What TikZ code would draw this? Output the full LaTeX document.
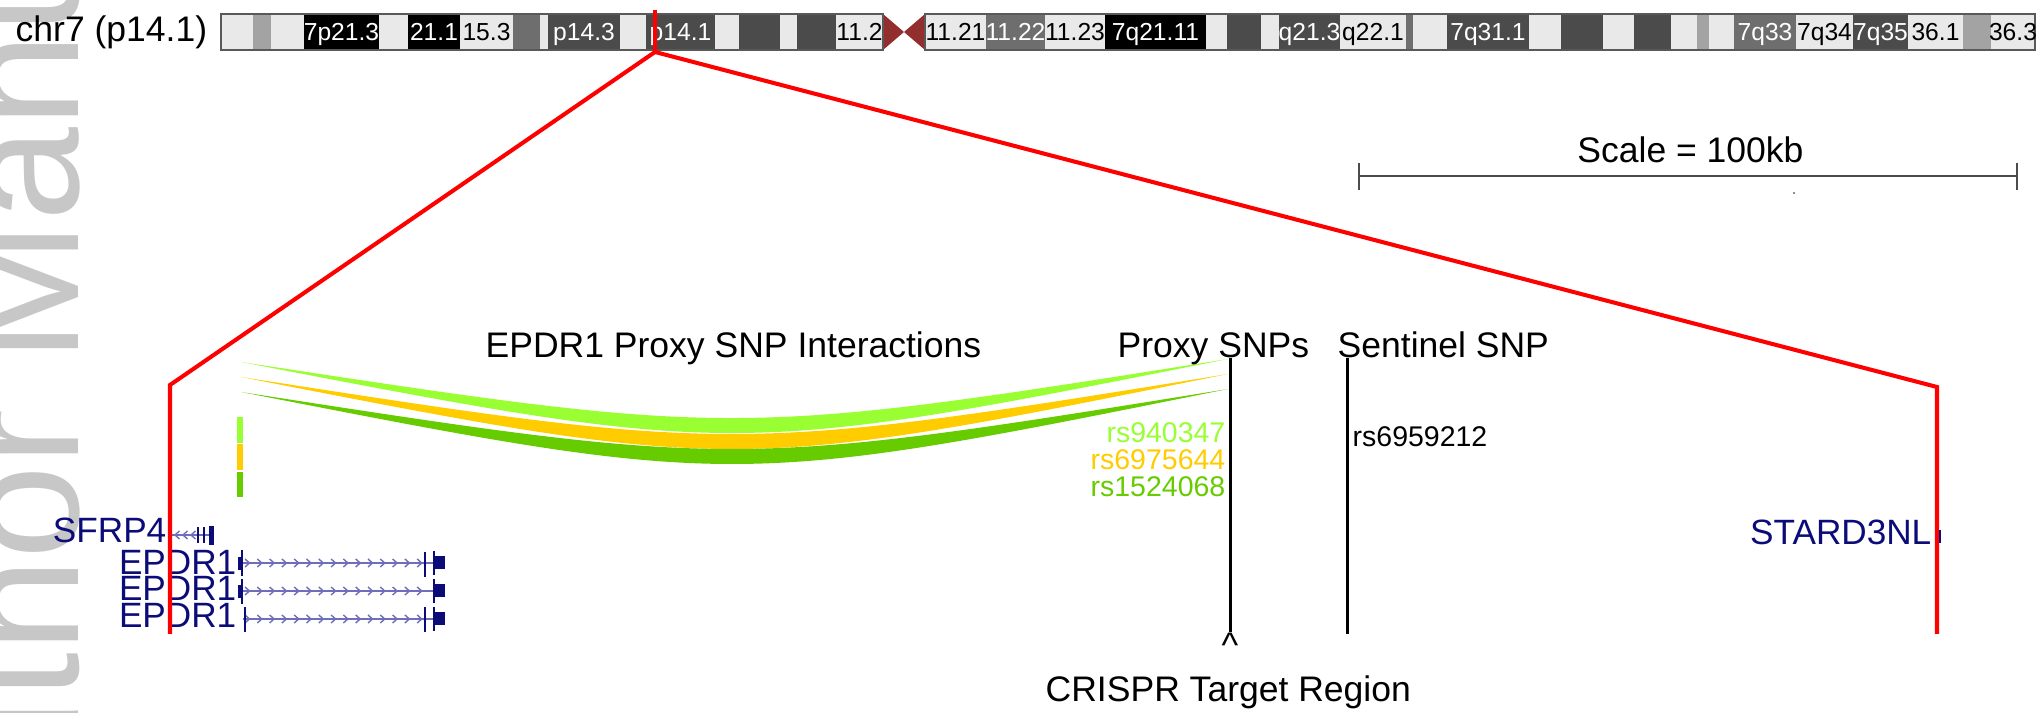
\documentclass[tikz,border=0pt]{standalone}
\usepackage{fontspec}
\setmainfont{Liberation Sans}
\usepackage{tikz}
\usetikzlibrary{positioning}
\definecolor{ucscnavy}{RGB}{12,12,120}
\definecolor{genelt}{RGB}{110,110,185}
\definecolor{bandlt}{HTML}{E9E9E9}
\definecolor{bandmd}{HTML}{A3A3A3}
\definecolor{bandmdk}{HTML}{6E6E6E}
\definecolor{banddk}{HTML}{4B4B4B}
\definecolor{cenred}{HTML}{932E2E}
\definecolor{snpA}{HTML}{99FF33}
\definecolor{snpB}{HTML}{FFCC00}
\definecolor{snpC}{HTML}{66CC00}

\begin{document}
\begin{tikzpicture}[x=0.01cm, y=-0.01cm,
  band/.style={inner sep=0, font=\fontsize{7}{8}\selectfont, anchor=base},
  title/.style={inner sep=0, font=\fontsize{10.1}{12}\selectfont},
  gene/.style={inner sep=0, font=\fontsize{10}{12}\selectfont, text=ucscnavy, anchor=base east},
  snplab/.style={inner sep=0, font=\fontsize{8.1}{10}\selectfont},
  zoomline/.style={red, line width=1.15pt},
  snpline/.style={black, line width=0.85pt},
  intron/.style={draw=genelt, line width=0.4pt},
  exon/.style={draw=ucscnavy, line width=0.6pt}]
  \useasboundingbox (0,0) rectangle (2041,713);

  % faint watermark along the left edge
  \begin{scope}
    \clip (0,0) rectangle (2041,713);
    \node[inner sep=0, font=\fontsize{48}{52}\selectfont, text=black!22,
      rotate=90, anchor=base west] (wmark) at (78,907) {Author Manuscript};
  \end{scope}

  % --- ideogram of chr7
  \node[title, anchor=base west] (chrlab) at (15,42) {chr7 (p14.1)};
  \foreach \xa/\xb/\col in {221/253/bandlt, 253/271/bandmd, 271/304/bandlt,
      304/379/black, 379/408/bandlt, 408/460/black, 460/513/bandlt,
      513/540/bandmdk, 540/548/bandlt, 548/620/banddk, 620/646/bandlt,
      646/715/banddk, 715/739/bandlt, 739/780/banddk, 780/797/bandlt,
      797/836/banddk, 836/883/bandlt,
      925/986/bandlt, 986/1045/bandmdk, 1045/1105/bandlt, 1105/1206/black,
      1206/1227/bandlt, 1227/1261/banddk, 1261/1279/bandlt, 1279/1340/banddk,
      1340/1406/bandlt, 1406/1413/bandmdk, 1413/1447/bandlt, 1447/1529/banddk,
      1529/1561/bandlt, 1561/1603/banddk, 1603/1634/bandlt, 1634/1671/banddk,
      1671/1697/bandlt, 1697/1709/bandmd, 1709/1734/bandlt, 1734/1796/bandmdk,
      1796/1853/bandlt, 1853/1908/banddk, 1908/1963/bandlt, 1963/1991/bandmd,
      1991/2035/bandlt}{
    \fill[\col] (\xa,14) rectangle (\xb,50);
  }
  % centromere
  \fill[cenred] (883,14) -- (904,32) -- (883,50) -- cycle;
  \fill[cenred] (925,14) -- (904,32) -- (925,50) -- cycle;
  \draw[black!65, line width=0.4pt] (221,14) rectangle (883,50);
  \draw[black!65, line width=0.4pt] (925,14) rectangle (2035,50);
  % band names
  \foreach \xc/\lab/\tcol [count=\i] in {341.5/7p21.3/white, 434/21.1/white,
      486.5/15.3/black, 584/p14.3/white, 680.5/p14.1/white, 859.5/11.2/black,
      955.5/11.21/black, 1015.5/11.22/white, 1075/11.23/black,
      1155.5/7q21.11/white, 1309.5/q21.3/white, 1373/q22.1/black,
      1488/7q31.1/white, 1765/7q33/white, 1824.5/7q34/black,
      1880.5/7q35/white, 1935.5/36.1/black, 2013/36.3/black}{
    \node[band, text=\tcol] (band\i) at (\xc,40.5) {\lab};
  }

  % --- scale bar
  \node[title, anchor=base] (scalelab) at (1690.5,163) {Scale = 100kb};
  \coordinate (sbl) at (1359,176);
  \coordinate (sbr) at (2017,176);
  \draw[black!70, line width=0.45pt] (sbl) -- (sbr);
  \draw[black!70, line width=0.45pt] ([yshift=0.13cm]sbl) -- ([yshift=-0.14cm]sbl);
  \draw[black!70, line width=0.45pt] ([yshift=0.13cm]sbr) -- ([yshift=-0.14cm]sbr);
  \fill[black!60] (1794,193) circle (1.2);

  % --- interaction arcs (proxy SNPs to EPDR1 promoter)
  \fill[snpA] (241,362) .. controls (735,457.2) .. (1228,359)
              .. controls (735,437.2) .. (241,362) -- cycle;
  \fill[snpB] (241,377) .. controls (735,473.5) .. (1228,374)
              .. controls (735,453.5) .. (241,377) -- cycle;
  \fill[snpC] (241,392) .. controls (735,488.5) .. (1228,389)
              .. controls (735,468.5) .. (241,392) -- cycle;
  \fill[snpA] (237,417) rectangle (243,443);
  \fill[snpB] (237,444) rectangle (243,470);
  \fill[snpC] (237,472) rectangle (243,497);

  % track titles
  \node[title, anchor=base west] (ttlint) at (485,358) {EPDR1 Proxy SNP Interactions};
  \node[title, anchor=base west] (ttlproxy) at (1117,358) {Proxy SNPs};
  \node[title, anchor=base west] (ttlsent) at (1337,358) {Sentinel SNP};

  % SNP positions
  \coordinate (proxytop) at (1230,358);
  \coordinate (proxybot) at (1230,632);
  \coordinate (senttop) at (1347,358);
  \coordinate (sentbot) at (1347,634);
  \draw[snpline] (proxytop) -- (proxybot);
  \draw[snpline] (senttop) -- (sentbot);
  \node[snplab, anchor=base east, text=snpA] (rsA) at (1226,443) {rs940347};
  \node[snplab, anchor=base east, text=snpB] (rsB) at (1226,470) {rs6975644};
  \node[snplab, anchor=base east, text=snpC] (rsC) at (1226,497) {rs1524068};
  \node[snplab, anchor=base west] (rsS) at (1352,447) {rs6959212};
  \node[title, anchor=base] (caret) at (1230,658) {\textasciicircum};
  \node[title, anchor=base west] (crispr) at (1045,702) {CRISPR Target Region};

  % --- genes
  \node[gene] (sfrp) at (167,543) {SFRP4};
  \draw[intron] (172,535) -- (214,535);
  \foreach \c in {177,185,193}
    \draw[intron] (\c+2.5,531) -- (\c-2,535) -- (\c+2.5,539);
  \draw[exon] (198,527) -- (198,543);
  \draw[exon] (204,527) -- (204,543);
  \fill[ucscnavy] (209,526) rectangle (214,545);

  \node[gene] (epdrA) at (237,575) {EPDR1};
  \node[gene] (epdrB) at (237,601) {EPDR1};
  \node[gene] (epdrC) at (237,628) {EPDR1};
  \foreach \y in {563,591,619}{
    \draw[intron] (243,\y) -- (434,\y);
    \foreach \c in {247,259.3,...,420}
      \draw[intron] (\c-2,\y-4) -- (\c+2.5,\y) -- (\c-2,\y+4);
    \draw[exon] (434,\y-12) -- (434,\y+12);
    \fill[ucscnavy] (435,\y-6.5) rectangle (445,\y+6.5);
  }
  \fill[ucscnavy] (238,557) rectangle (243,570);
  \draw[exon] (242,550) -- (242,576);
  \draw[exon] (425,552) -- (425,577);
  \fill[ucscnavy] (238,585) rectangle (243,598);
  \draw[exon] (242,579) -- (242,604);
  \draw[exon] (245,607) -- (245,632);
  \draw[exon] (425,607) -- (425,632);

  \node[gene] (stard) at (1932,545) {STARD3NL};

  % --- zoom lines from the ideogram
  \coordinate (apextop) at (655,10);
  \coordinate (apex) at (655,52);
  \coordinate (zlcorner) at (170,385);
  \coordinate (zlbot) at (170,634);
  \coordinate (zrcorner) at (1937,387);
  \coordinate (zrbot) at (1937,634);
  \draw[zoomline] (apextop) -- (apex);
  \draw[zoomline] (zlbot) -- (zlcorner) -- (apex) -- (zrcorner) -- (zrbot);
  \draw[exon] (1940,530) -- (1940,543);
\end{tikzpicture}
\end{document}
